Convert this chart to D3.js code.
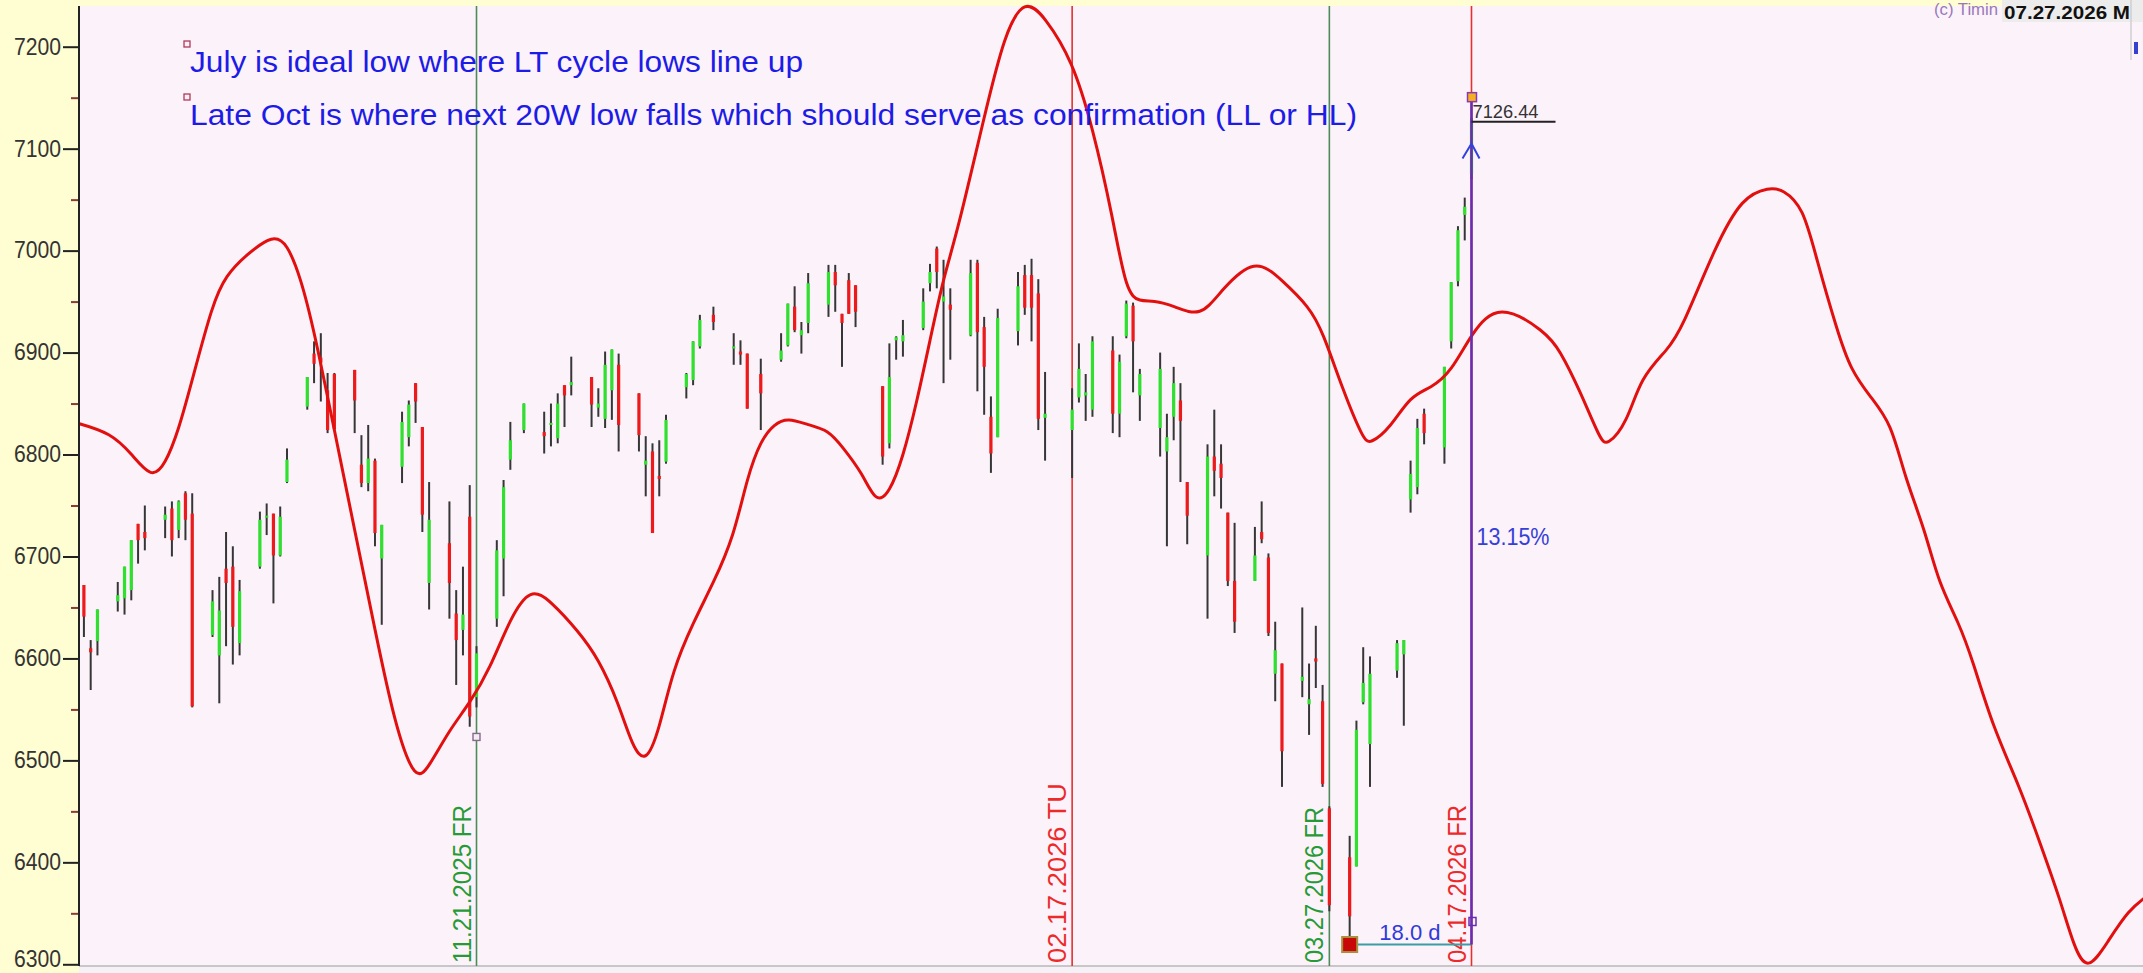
<!DOCTYPE html>
<html><head><meta charset="utf-8">
<script src="https://cdn.jsdelivr.net/npm/d3@7"></script>
<style>
html,body{margin:0;padding:0;background:#fffdd2;overflow:hidden;}
svg{display:block;}
text{font-family:"Liberation Sans",Arial,sans-serif;}
</style></head><body>
<svg id="chart" width="2143" height="973"></svg>
<script>
// ---------------- DATA ----------------
const barDates = ["2025-09-23","2025-09-24","2025-09-25","2025-09-26","2025-09-29","2025-09-30","2025-10-01","2025-10-02","2025-10-03",
"2025-10-06","2025-10-07","2025-10-08","2025-10-09","2025-10-10","2025-10-13","2025-10-14","2025-10-15","2025-10-16","2025-10-17",
"2025-10-20","2025-10-21","2025-10-22","2025-10-23","2025-10-24","2025-10-27","2025-10-28","2025-10-29","2025-10-30","2025-10-31",
"2025-11-03","2025-11-04","2025-11-05","2025-11-06","2025-11-07","2025-11-10","2025-11-11","2025-11-12","2025-11-13","2025-11-14",
"2025-11-17","2025-11-18","2025-11-19","2025-11-20","2025-11-21","2025-11-24","2025-11-25","2025-11-26","2025-11-28",
"2025-12-01","2025-12-02","2025-12-03","2025-12-04","2025-12-05","2025-12-08","2025-12-09","2025-12-10","2025-12-11","2025-12-12",
"2025-12-15","2025-12-16","2025-12-17","2025-12-18","2025-12-19","2025-12-22","2025-12-23","2025-12-24","2025-12-26",
"2025-12-29","2025-12-30","2025-12-31","2026-01-02","2026-01-05","2026-01-06","2026-01-07","2026-01-08","2026-01-09",
"2026-01-12","2026-01-13","2026-01-14","2026-01-15","2026-01-16","2026-01-20","2026-01-21","2026-01-22","2026-01-23",
"2026-01-26","2026-01-27","2026-01-28","2026-01-29","2026-01-30","2026-02-02","2026-02-03","2026-02-04","2026-02-05","2026-02-06",
"2026-02-09","2026-02-10","2026-02-11","2026-02-12","2026-02-13","2026-02-17","2026-02-18","2026-02-19","2026-02-20",
"2026-02-23","2026-02-24","2026-02-25","2026-02-26","2026-02-27","2026-03-02","2026-03-03","2026-03-04","2026-03-05","2026-03-06",
"2026-03-09","2026-03-10","2026-03-11","2026-03-12","2026-03-13","2026-03-16","2026-03-17","2026-03-18","2026-03-19","2026-03-20",
"2026-03-23","2026-03-24","2026-03-25","2026-03-26","2026-03-27","2026-03-30","2026-03-31","2026-04-01","2026-04-02",
"2026-04-06","2026-04-07","2026-04-08","2026-04-09","2026-04-10","2026-04-13","2026-04-14","2026-04-15","2026-04-16","2026-04-17"];
const opens = [6670,6672,6610,6617,6656,6659,6667,6732,6724,
6736,6747,6726,6762,6742,6623,6603,6688,6690,6615,
6690,6738,6742,6701,6773,6847,6899,6895,6863,6879,
6883,6790,6772,6794,6698,6788,6817,6870,6827,6674,
6713,6644,6628,6739,6562,6639,6698,6795,6824,
6822,6830,6816,6868,6868,6876,6846,6835,6863,6888,
6860,6790,6803,6779,6793,6866,6873,6906,6937,
6904,6901,6899,6879,6893,6907,6945,6917,6929,
6947,6979,6938,6971,6966,6867,6811,6912,6911,
6924,6968,7002,6950,6947,6917,6988,6925,6837,6817,
6921,6976,6976,6958,6836,6824,6856,6858,6844,
6902,6840,6916,6946,6858,6826,6803,6837,6853,6773,
6701,6798,6791,6743,6676,6676,6724,6699,6585,6595,
6578,6555,6600,6558,6453,6405,6396,6557,6516,
6588,6604,6756,6768,6840,6807,6911,6970,7035,7075];
const highs = [6698,6672,6618,6648,6675,6690,6716,6732,6750,
6749,6754,6755,6764,6762,6667,6680,6724,6710,6677,
6744,6752,6742,6749,6806,6876,6911,6919,6880,6880,
6883,6819,6829,6796,6731,6842,6853,6870,6827,6773,
6754,6667,6690,6770,6612,6716,6775,6832,6850,
6842,6850,6860,6868,6896,6876,6865,6901,6903,6899,
6860,6818,6811,6814,6839,6880,6911,6937,6945,
6919,6912,6899,6894,6919,6948,6965,6930,6978,
6986,6986,6938,6978,6966,6867,6909,6916,6932,
6963,6987,7004,6991,6963,6991,6991,6935,6857,6943,
6979,6986,6992,6972,6881,6865,6909,6879,6916,
6916,6898,6951,6949,6884,6900,6840,6886,6870,6773,
6810,6844,6810,6743,6733,6729,6754,6703,6636,6595,
6650,6595,6632,6574,6455,6426,6539,6611,6602,
6618,6618,6794,6835,6845,6886,6969,7024,7052,7130];
const lows = [6646,6621,6569,6603,6646,6643,6657,6693,6706,
6718,6700,6718,6716,6552,6621,6556,6612,6594,6603,
6688,6721,6654,6700,6772,6844,6870,6852,6821,6824,
6821,6768,6764,6710,6633,6772,6808,6831,6724,6648,
6639,6574,6603,6533,6552,6631,6661,6785,6821,
6801,6808,6811,6827,6858,6827,6837,6826,6834,6803,
6803,6759,6723,6759,6791,6855,6868,6904,6922,
6888,6888,6845,6824,6891,6906,6920,6899,6919,
6935,6940,6886,6938,6925,6790,6806,6893,6896,
6922,6960,6963,6870,6893,6916,6862,6839,6782,6817,
6907,6937,6911,6824,6794,6777,6851,6833,6837,
6821,6817,6914,6861,6833,6798,6710,6814,6773,6712,
6639,6759,6747,6671,6625,6676,6713,6622,6558,6474,
6562,6525,6571,6474,6352,6319,6396,6555,6474,
6581,6534,6743,6761,6810,6791,6904,6965,7010,7070];
const closes = [6675,6641,6606,6648,6662,6690,6716,6716,6718,
6741,6716,6754,6736,6553,6656,6647,6674,6631,6666,
6736,6740,6701,6739,6795,6876,6889,6890,6824,6825,
6853,6772,6796,6723,6731,6832,6849,6852,6741,6736,
6674,6618,6643,6543,6605,6706,6768,6814,6850,
6818,6831,6850,6858,6871,6849,6850,6888,6903,6829,
6819,6794,6723,6776,6834,6879,6911,6932,6930,
6906,6898,6845,6860,6902,6948,6922,6922,6968,
6979,6966,6929,6938,6940,6798,6876,6915,6917,
6950,6979,6979,6955,6942,6978,6920,6886,6801,6934,
6965,6944,6944,6835,6840,6844,6884,6861,6911,
6840,6891,6948,6911,6879,6884,6817,6870,6833,6740,
6798,6784,6777,6676,6636,6701,6717,6625,6608,6509,
6582,6560,6597,6477,6358,6347,6530,6576,6585,
6615,6618,6781,6826,6821,6886,6969,7020,7043,7126.44];

const cycleDates = ["2025-09-20","2025-09-23","2025-09-28","2025-10-01","2025-10-04","2025-10-06","2025-10-08","2025-10-10","2025-10-13","2025-10-15",
"2025-10-18","2025-10-22","2025-10-24","2025-10-26","2025-10-28","2025-10-31","2025-11-03","2025-11-06","2025-11-09","2025-11-12",
"2025-11-14","2025-11-17","2025-11-20","2025-11-23","2025-11-26","2025-11-29","2025-12-02","2025-12-06","2025-12-09",
"2025-12-12","2025-12-14","2025-12-16","2025-12-18","2025-12-20","2025-12-23","2025-12-26","2025-12-29","2025-12-31","2026-01-02",
"2026-01-04","2026-01-06","2026-01-09","2026-01-12","2026-01-14","2026-01-17","2026-01-19","2026-01-21","2026-01-23","2026-01-25",
"2026-01-27","2026-01-29","2026-01-31","2026-02-04","2026-02-07","2026-02-10","2026-02-13","2026-02-17","2026-02-20","2026-02-23",
"2026-02-25","2026-02-27","2026-03-01","2026-03-04","2026-03-08","2026-03-11","2026-03-16","2026-03-20","2026-03-24","2026-03-26",
"2026-03-29","2026-04-01","2026-04-02","2026-04-05","2026-04-08","2026-04-11","2026-04-14","2026-04-17","2026-04-21","2026-04-28",
"2026-04-30","2026-05-03","2026-05-06","2026-05-07","2026-05-10","2026-05-12","2026-05-16","2026-05-18","2026-05-23","2026-05-27",
"2026-05-31","2026-06-02","2026-06-05","2026-06-07","2026-06-10","2026-06-12","2026-06-15","2026-06-18","2026-06-20","2026-06-23",
"2026-06-25","2026-06-28","2026-06-30","2026-07-03","2026-07-07","2026-07-10","2026-07-13","2026-07-15","2026-07-17","2026-07-20",
"2026-07-23","2026-07-26"];
const cycleValues = [6836,6831,6821,6801,6776,6790,6824,6873,6948,6976,
6996,7016,7007,6974,6922,6824,6726,6628,6533,6478,
6494,6530,6556,6590,6640,6670,6656,6627,6600,
6556,6514,6496,6530,6589,6635,6674,6719,6778,6814,
6830,6836,6829,6824,6808,6782,6752,6762,6797,6850,
6912,6974,7017,7131,7213,7248,7229,7187,7122,7033,
6958,6950,6951,6946,6934,6961,6994,6971,6945,6921,
6863,6815,6810,6826,6858,6865,6881,6919,6950,6920,
6903,6863,6815,6808,6831,6876,6903,6922,7004,7053,
7062,7060,7043,6991,6922,6883,6856,6831,6778,6726,
6674,6635,6599,6533,6474,6419,6363,6317,6292,6322,
6353,6368];

const yTickValues = [6300,6400,6500,6600,6700,6800,6900,7000,7100,7200];
const yMinorValues = [6350,6450,6550,6650,6750,6850,6950,7050,7150];

const markerDates  = ["2025-11-21","2026-02-17","2026-03-27","2026-04-17"];
const markerLabels = ["11.21.2025 FR","02.17.2026 TU","03.27.2026 FR","04.17.2026 FR"];
const markerKinds  = ["low","high","low","high"];

const notes = ["July is ideal low where LT cycle lows line up",
               "Late Oct is where next 20W low falls which should serve as confirmation (LL or HL)"];

const swingLowDate = "2026-03-30", swingLowValue = 6319.4;
const targetDate = "2026-04-17", targetValue = 7150, lastPrice = 7126.44;
const pctLabel = "13.15%", daysLabel = "18.0 d", priceLabel = "7126.44";
const anchorMarkValue = 6523, footMarkValue = 6342, arrowValue = 7105, pctLabelValue = 6719;
const stampText = "(c) Timin", stampDate = "07.27.2026 M";

// ---------------- LAYOUT ----------------
const W = 2143, H = 973;
const P = {left:79, top:3, right:2143, bottom:966};
const parse = d3.utcParse("%Y-%m-%d");
const x = d3.scaleUtc().domain([parse("2025-11-21"), parse("2026-04-17")]).range([476.5, 1471.5]);
const y = d3.scaleLinear().domain([6300, 7200]).range([964.3, 46.7]);

const svg = d3.select("#chart");
const defs = svg.append("defs");
defs.append("clipPath").attr("id","plotclip").append("rect")
  .attr("x",P.left).attr("y",P.top).attr("width",P.right-P.left).attr("height",P.bottom-P.top);

// backgrounds
svg.append("rect").attr("width",W).attr("height",H).attr("fill","#fffdd2");
svg.append("rect").attr("x",P.left).attr("y",6).attr("width",P.right-P.left).attr("height",P.bottom-6).attr("fill","#fcf2fa");
svg.append("rect").attr("x",P.left).attr("y",P.bottom).attr("width",P.right-P.left).attr("height",H-P.bottom).attr("fill","#f6f1f6");
svg.append("line").attr("x1",P.left).attr("x2",P.right).attr("y1",P.bottom).attr("y2",P.bottom).attr("stroke","#c9c6c9").attr("stroke-width",2);

const g = svg.append("g").attr("clip-path","url(#plotclip)");

// vertical cycle markers
const mColor = {low:"#4c8c5a", high:"#e43030"};
const mText  = {low:"#269a36", high:"#ec2a2a"};
const mLen   = [158,180,156,158];
markerDates.forEach((d,i)=>{
  const xx = x(parse(d));
  g.append("line").attr("x1",xx).attr("x2",xx).attr("y1",6).attr("y2",P.bottom)
    .attr("stroke",mColor[markerKinds[i]]).attr("stroke-width",1.6);
  g.append("text").attr("transform",`translate(${xx-6},963) rotate(-90)`)
    .attr("font-size",26).attr("fill",mText[markerKinds[i]])
    .attr("textLength",mLen[i]).attr("lengthAdjust","spacingAndGlyphs")
    .text(markerLabels[i]);
});

// bars
const bars = barDates.map((d,i)=>({date:parse(d),o:opens[i],h:highs[i],l:lows[i],c:closes[i]}));
const bg = g.append("g");
bg.selectAll("line.wick").data(bars).join("line").attr("class","wick")
  .attr("x1",d=>x(d.date)).attr("x2",d=>x(d.date))
  .attr("y1",d=>y(d.h)).attr("y2",d=>y(d.l))
  .attr("stroke","#363636").attr("stroke-width",2);
bg.selectAll("rect.body").data(bars).join("rect").attr("class","body")
  .attr("x",d=>x(d.date)-1.6).attr("width",3.2)
  .attr("y",d=>y(Math.max(d.o,d.c)))
  .attr("height",d=>Math.max(2,Math.abs(y(d.o)-y(d.c))))
  .attr("fill",d=>d.c>=d.o?"#2fe02f":"#ec1a1a");

// cycle curve
const cyc = cycleDates.map((d,i)=>({date:parse(d),v:cycleValues[i]}));
g.append("path").datum(cyc)
  .attr("d",d3.line().x(d=>x(d.date)).y(d=>y(d.v)).curve(d3.curveBasis))
  .attr("fill","none").attr("stroke","#e20f0f").attr("stroke-width",3).attr("stroke-linejoin","round");

// small anchor square on first marker
g.append("rect").attr("x",x(parse(markerDates[0]))-3.5).attr("y",y(anchorMarkValue)-3.5)
  .attr("width",7).attr("height",7).attr("fill","#f4ecf4").attr("stroke","#866a88").attr("stroke-width",1.4);

// measurement tool
const xt = x(parse(targetDate)), xl = x(parse(swingLowDate));
g.append("line").attr("x1",xl+7).attr("x2",xt).attr("y1",y(swingLowValue)).attr("y2",y(swingLowValue))
  .attr("stroke","#3b9ea4").attr("stroke-width",2);
g.append("line").attr("x1",xt).attr("x2",xt).attr("y1",y(targetValue)).attr("y2",y(swingLowValue))
  .attr("stroke","#6a2cb0").attr("stroke-width",2.6);
g.append("polyline").attr("points",`${xt-9},${y(arrowValue)+15} ${xt},${y(arrowValue)} ${xt+8},${y(arrowValue)+15}`)
  .attr("fill","none").attr("stroke","#3340e0").attr("stroke-width",2);
g.append("rect").attr("x",xl-7.5).attr("y",y(swingLowValue)-7.5).attr("width",15).attr("height",15)
  .attr("fill","#c80808").attr("stroke","#a89040").attr("stroke-width",2);
g.append("rect").attr("x",xt-4).attr("y",y(targetValue)-5).attr("width",9).attr("height",9)
  .attr("fill","#f4b020").attr("stroke","#8a3ab0").attr("stroke-width",1.5);
g.append("rect").attr("x",xt-2.5).attr("y",y(footMarkValue)-4).attr("width",7).attr("height",8)
  .attr("fill","none").attr("stroke","#6a2cb0").attr("stroke-width",1.5);
g.append("line").attr("x1",xt).attr("x2",xt+84).attr("y1",y(lastPrice)).attr("y2",y(lastPrice))
  .attr("stroke","#222").attr("stroke-width",2);
g.append("text").attr("x",xt+1).attr("y",y(lastPrice)-4).attr("font-size",19).attr("fill","#333")
  .attr("textLength",66).attr("lengthAdjust","spacingAndGlyphs").text(priceLabel);
g.append("text").attr("x",xt+5).attr("y",y(pctLabelValue)+8).attr("font-size",23).attr("fill","#3540d8")
  .attr("textLength",73).attr("lengthAdjust","spacingAndGlyphs").text(pctLabel);
g.append("text").attr("x",xt-31).attr("y",y(swingLowValue)-5).attr("text-anchor","end")
  .attr("font-size",22).attr("fill","#2f3ad8").text(daysLabel);

// notes
const noteBase = [72,125], noteLen = [613,1167];
notes.forEach((t,i)=>{
  g.append("rect").attr("x",184).attr("y",noteBase[i]-31).attr("width",6).attr("height",6)
    .attr("fill","#fbeef6").attr("stroke","#b03a5a").attr("stroke-width",1.3);
  g.append("text").attr("x",190).attr("y",noteBase[i]).attr("font-size",30).attr("fill","#1c1ce6")
    .attr("textLength",noteLen[i]).attr("lengthAdjust","spacingAndGlyphs").text(t);
});

// y axis
const axG = svg.append("g").attr("transform",`translate(${P.left},0)`);
axG.call(d3.axisLeft(y).tickValues(yMinorValues).tickSize(8).tickFormat(""))
  .call(a=>a.select(".domain").remove())
  .call(a=>a.selectAll(".tick line").attr("stroke","#8b3a3a").attr("stroke-width",2));
const axM = svg.append("g").attr("transform",`translate(${P.left},0)`);
axM.call(d3.axisLeft(y).tickValues(yTickValues).tickSize(16).tickPadding(2).tickFormat(d3.format("d")))
  .call(a=>a.select(".domain").remove())
  .call(a=>a.selectAll(".tick line").attr("stroke","#222").attr("stroke-width",2))
  .call(a=>a.selectAll(".tick text").attr("font-size",23).attr("fill","#333")
     .attr("font-family","'Liberation Sans',Arial,sans-serif")
     .attr("dy",d=>d===6300?"0.1em":"0.32em")
     .attr("textLength",47).attr("lengthAdjust","spacingAndGlyphs"));
svg.append("line").attr("x1",P.left).attr("x2",P.left).attr("y1",6).attr("y2",P.bottom)
  .attr("stroke","#222").attr("stroke-width",2);

// top-right stamp
svg.append("rect").attr("x",2002).attr("y",0).attr("width",141).attr("height",22).attr("fill","#ececec");
svg.append("line").attr("x1",2131).attr("x2",2131).attr("y1",0).attr("y2",60).attr("stroke","#cfcfcf").attr("stroke-width",1.5);
svg.append("rect").attr("x",2134).attr("y",42).attr("width",4).attr("height",12).attr("fill","#3340d0");
svg.append("text").attr("x",1934).attr("y",15).attr("font-size",16).attr("fill","#9a78b8")
  .attr("textLength",64).attr("lengthAdjust","spacingAndGlyphs").text(stampText);
svg.append("text").attr("x",2004).attr("y",19).attr("font-size",19).attr("font-weight","bold").attr("fill","#111")
  .attr("textLength",126).attr("lengthAdjust","spacingAndGlyphs").text(stampDate);
</script></body></html>
